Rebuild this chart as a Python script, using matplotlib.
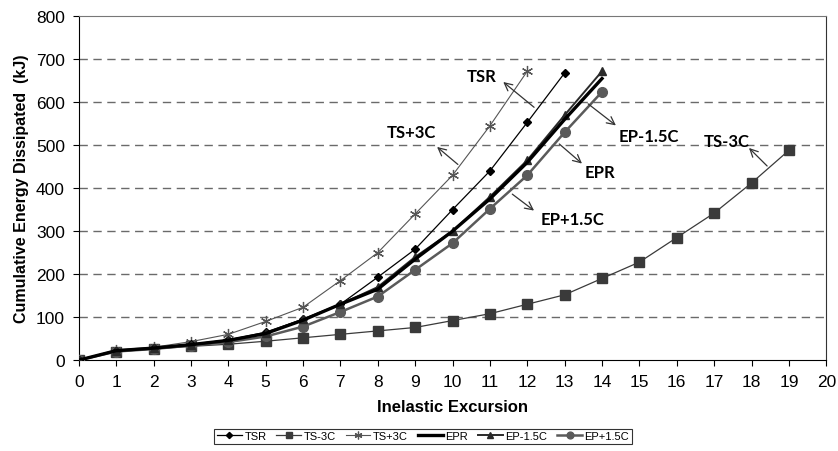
import matplotlib
matplotlib.use("Agg")
import matplotlib.pyplot as plt

plt.rcParams['font.family'] = ['Liberation Sans', 'DejaVu Sans']

x_tsr = list(range(0, 14))
tsr = [0, 22, 28, 37, 47, 65, 95, 130, 193, 258, 350, 440, 553, 668]
x_ts3m = list(range(0, 20))
ts_m3c = [0, 20, 26, 32, 37, 44, 52, 60, 68, 76, 92, 108, 130, 152, 190, 228, 285, 342, 412, 488]
x_ts3p = list(range(0, 13))
ts_p3c = [0, 24, 30, 43, 60, 90, 123, 185, 250, 340, 430, 545, 672]
x_ep = list(range(0, 15))
epr = [0, 22, 28, 36, 46, 62, 93, 130, 165, 235, 300, 375, 460, 560, 655]
ep_m15 = [0, 22, 28, 36, 46, 62, 95, 130, 170, 240, 300, 380, 465, 570, 672]
ep_p15 = [0, 20, 26, 34, 42, 55, 78, 112, 148, 210, 272, 352, 430, 530, 624]

fig = plt.figure(figsize=(8.38, 4.52), dpi=100)
ax = fig.add_axes([0.094, 0.201, 0.892, 0.761])

ax.plot(x_tsr, tsr, color='black', lw=0.9, marker='D', ms=4.5, label='TSR', zorder=5)
ax.plot(x_ts3m, ts_m3c, color='#3a3a3a', lw=0.9, marker='s', ms=6.5, label='TS-3C', zorder=4)
ax.plot(x_ts3p, ts_p3c, color='#555555', lw=0.8, marker=(6, 2, 0), ms=8, mew=0.9, label='TS+3C', zorder=4)
ax.plot(x_ep, epr, color='black', lw=2.4, label='EPR', zorder=6)
ax.plot(x_ep, ep_m15, color='#2a2a2a', lw=1.4, marker='^', ms=6, label='EP-1.5C', zorder=5)
ax.plot(x_ep, ep_p15, color='#5a5a5a', lw=1.8, marker='o', ms=7, label='EP+1.5C', zorder=4)

ax.set_xlim(0, 20)
ax.set_ylim(0, 800)
ax.set_xticks(range(0, 21))
ax.set_yticks(range(0, 801, 100))
ax.tick_params(labelsize=12.5, length=4, direction='out', pad=6)
for y in range(100, 800, 100):
    ax.axhline(y, color='#6a6a6a', lw=1.0, ls=(0, (6, 4)), zorder=1)
ax.spines['left'].set_color('black')
ax.spines['bottom'].set_color('black')
ax.spines['top'].set_color('#777777')
ax.spines['right'].set_color('#333333')

ax.set_xlabel('Inelastic Excursion', fontsize=12, fontweight='bold', labelpad=7)
ax.set_ylabel('Cumulative Energy Dissipated  (kJ)', fontsize=11.5, fontweight='bold', labelpad=5)

afont = dict(fontsize=12, fontweight='bold', family=['Lato', 'DejaVu Sans'])
arw = dict(arrowstyle='->', color='#333333', lw=0.9, mutation_scale=14)
# (label, text pos, arrow head, arrow start)
notes = [
    ('TSR', (10.79, 660), (11.3, 651), (12.24, 584)),
    ('TS+3C', (8.9, 530), (9.53, 500), (10.2, 451)),
    ('EP-1.5C', (15.26, 521), (14.43, 542), (13.57, 600)),
    ('EPR', (13.95, 437), (13.52, 453), (12.8, 507)),
    ('EP+1.5C', (13.2, 328), (12.24, 344), (11.54, 390)),
    ('TS-3C', (17.35, 509), (17.88, 498), (18.47, 447)),
]
for lab, tpos, head, start in notes:
    ax.text(tpos[0], tpos[1], lab, ha='center', va='center', zorder=8, **afont)
    ax.annotate('', xy=head, xytext=start, arrowprops=arw, zorder=7)

leg = fig.legend(loc='center', bbox_to_anchor=(0.505, 0.0325), ncol=6, fontsize=8,
                 frameon=True, fancybox=False, edgecolor='black', handlelength=2.2,
                 columnspacing=0.9, handletextpad=0.25, borderpad=0.25, markerscale=0.7)
leg.get_frame().set_linewidth(0.8)

fig.savefig('out.png', dpi=100)
